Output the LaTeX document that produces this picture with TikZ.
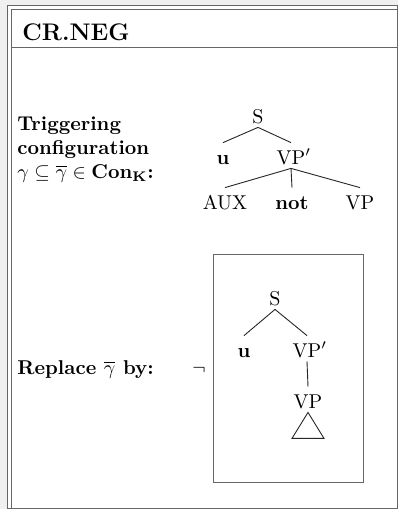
\documentclass[tikz,border=0pt]{standalone}
\begin{document}
\begin{tikzpicture}[x=0.5pt,y=-0.5pt,
    cat/.style={inner xsep=1pt,inner ysep=2pt,text height=8.5pt,text depth=0pt,anchor=base},
    txt/.style={anchor=base west,inner sep=0,font=\bfseries},
    frame/.style={draw=black!60,line width=0.5pt},
    branch/.style={draw=black!85,line width=0.45pt}]
% page and frame
\useasboundingbox (0,0) rectangle (398,509);
\fill[black!6] (0,0) rectangle (398,509);
\fill[white] (7,5) rectangle (397,508);
\draw[frame] (7,5) rectangle (397,508);
\draw[frame] (11,508) -- (11,9.5) -- (397,9.5);
\draw[frame] (11,47) -- (397,47);
\node[txt,font=\large\bfseries] (title) at (22,40) {CR.NEG};

% triggering configuration
\node[txt] (trig) at (17,130) {Triggering};
\node[txt] (conf) at (17,154) {configuration};
\node[txt] (cond) at (17,178) {$\gamma\subseteq\overline{\gamma}\in\mathbf{Con}_{\mathbf{K}}$:};
\node[cat] (s) at (258,123) {S};
\node[cat,font=\bfseries] (u) at (223,164) {u};
\node[cat] (vpb) at (291,164) {VP\rlap{$'$}};
\node[cat] (aux) at (225,209) {AUX};
\node[cat,font=\bfseries] (neg) at (292,209) {not};
\node[cat] (vp) at (360,209) {VP};
\foreach \a/\b in {s/u,s/vpb,vpb/aux,vpb/neg,vpb/vp}
  \draw[branch] (\a.south) -- (\b.north);

% replacement
\node[txt] (repl) at (17,374) {Replace $\overline{\gamma}$ by:};
\node[anchor=base,inner sep=0] (negsign) at (199,374) {$\neg$};
\draw[frame] (213,254) rectangle (363,482);
\node[cat] (s2) at (275,305) {S};
\node[cat,font=\bfseries] (u2) at (244,357) {u};
\node[cat] (vpb2) at (307,357) {VP\rlap{$'$}};
\node[cat] (vp2) at (308,408) {VP};
\foreach \a/\b in {s2/u2,s2/vpb2,vpb2/vp2}
  \draw[branch] (\a.south) -- (\b.north);
\draw[branch] (vp2.south) -- ++(-16,26) -- ++(32,0) -- cycle;
\end{tikzpicture}
\end{document}
